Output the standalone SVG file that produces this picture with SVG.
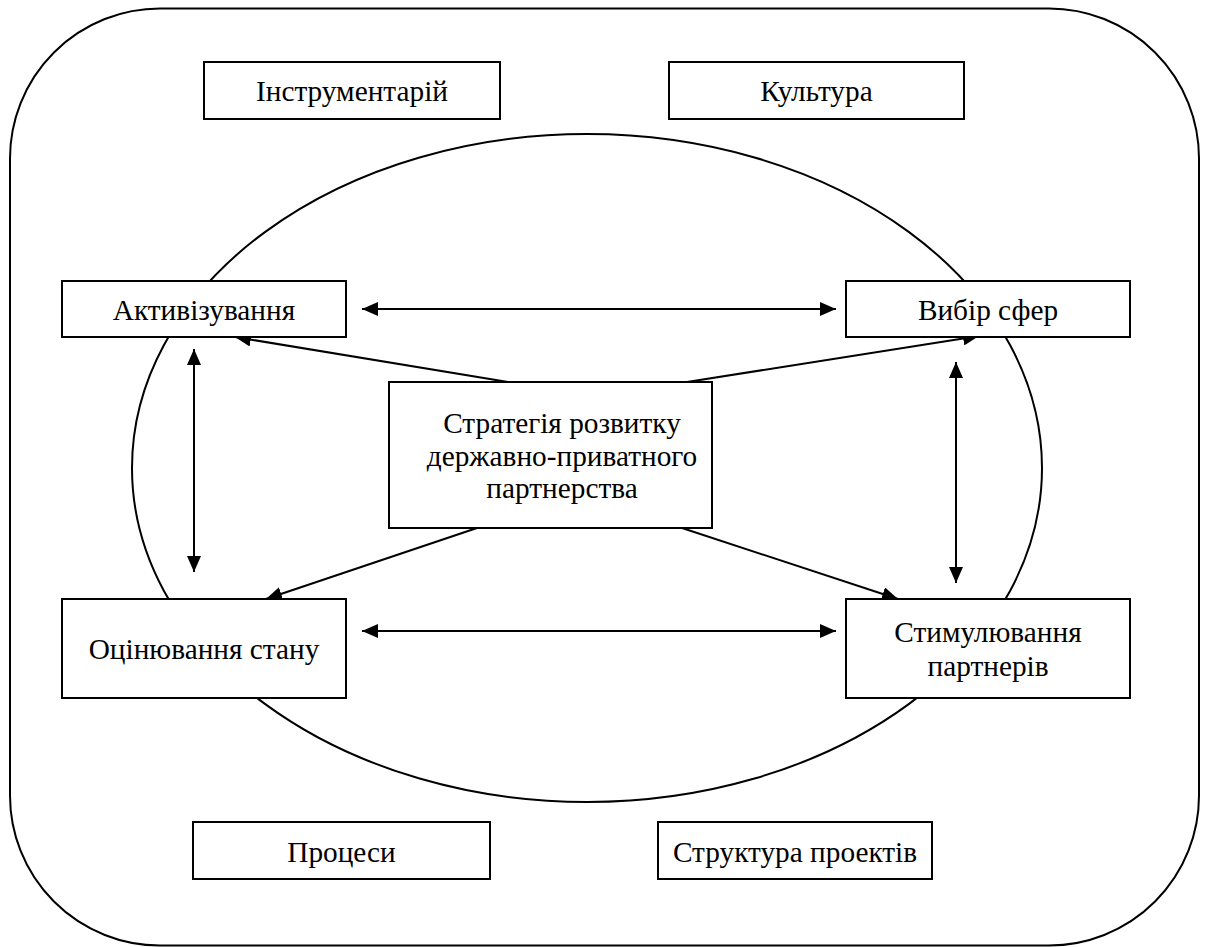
<svg xmlns="http://www.w3.org/2000/svg" width="1207" height="947" viewBox="0 0 1207 947">
  <style>
    .frame { fill: none; stroke: #000; stroke-width: 2; }
    .box { fill: #fff; stroke: #000; stroke-width: 2; }
    .lbl { font-family: "Liberation Serif", "Times New Roman", serif; font-size: 29.3px; fill: #000; text-anchor: middle; }
    .conn { fill: none; stroke: #000; stroke-width: 2; }
  </style>
  <defs>
    <marker id="ah" viewBox="0 0 16 14" refX="16" refY="7" markerWidth="16" markerHeight="14" markerUnits="userSpaceOnUse" orient="auto-start-reverse">
      <path d="M0,0 L16,7 L0,14 z" fill="#000"/>
    </marker>
  </defs>
  <rect width="1207" height="947" fill="#fff"/>
  <g id="outer-frame">
    <rect class="frame" x="10" y="8.5" width="1189" height="937" rx="150" ry="150"/>
  </g>
  <g id="ellipse">
    <ellipse class="frame" cx="587" cy="468" rx="455" ry="334"/>
  </g>
  <g id="connectors">
    <line class="conn" x1="362" y1="309" x2="836" y2="309" marker-start="url(#ah)" marker-end="url(#ah)"/>
    <line class="conn" x1="194" y1="349" x2="194" y2="572" marker-start="url(#ah)" marker-end="url(#ah)"/>
    <line class="conn" x1="956" y1="362" x2="956" y2="583" marker-start="url(#ah)" marker-end="url(#ah)"/>
    <line class="conn" x1="362" y1="631" x2="836" y2="631" marker-start="url(#ah)" marker-end="url(#ah)"/>
    <line class="conn" x1="508" y1="382" x2="235" y2="337" marker-end="url(#ah)"/>
    <line class="conn" x1="687" y1="382" x2="979" y2="336" marker-end="url(#ah)"/>
    <line class="conn" x1="477" y1="528" x2="266" y2="599" marker-end="url(#ah)"/>
    <line class="conn" x1="682" y1="528" x2="898" y2="599" marker-end="url(#ah)"/>
  </g>
  <g id="node-instrumentarii">
    <rect class="box" x="204" y="62" width="296" height="57"/>
    <text class="lbl" x="352" y="101">Інструментарій</text>
  </g>
  <g id="node-kultura">
    <rect class="box" x="669" y="62" width="295" height="57"/>
    <text class="lbl" x="816.5" y="101">Культура</text>
  </g>
  <g id="node-aktyvizuvannia">
    <rect class="box" x="62" y="281" width="284" height="56"/>
    <text class="lbl" x="204" y="320">Активізування</text>
  </g>
  <g id="node-vybir-sfer">
    <rect class="box" x="846" y="281" width="284" height="56"/>
    <text class="lbl" x="988" y="320">Вибір сфер</text>
  </g>
  <g id="node-stratehiia">
    <rect class="box" x="389" y="382" width="323" height="146"/>
    <text class="lbl" x="562" y="433">Стратегія розвитку</text>
    <text class="lbl" x="562" y="465.5">державно-приватного</text>
    <text class="lbl" x="562" y="498">партнерства</text>
  </g>
  <g id="node-otsiniuvannia">
    <rect class="box" x="62" y="599" width="284" height="99"/>
    <text class="lbl" x="204" y="659">Оцінювання стану</text>
  </g>
  <g id="node-stymuliuvannia">
    <rect class="box" x="846" y="599" width="284" height="99"/>
    <text class="lbl" x="988" y="642">Стимулювання</text>
    <text class="lbl" x="988" y="676">партнерів</text>
  </g>
  <g id="node-protsesy">
    <rect class="box" x="193" y="822" width="297" height="57"/>
    <text class="lbl" x="341.5" y="861.5">Процеси</text>
  </g>
  <g id="node-struktura">
    <rect class="box" x="658" y="822" width="274" height="57"/>
    <text class="lbl" x="795" y="861.5">Структура проектів</text>
  </g>
</svg>
